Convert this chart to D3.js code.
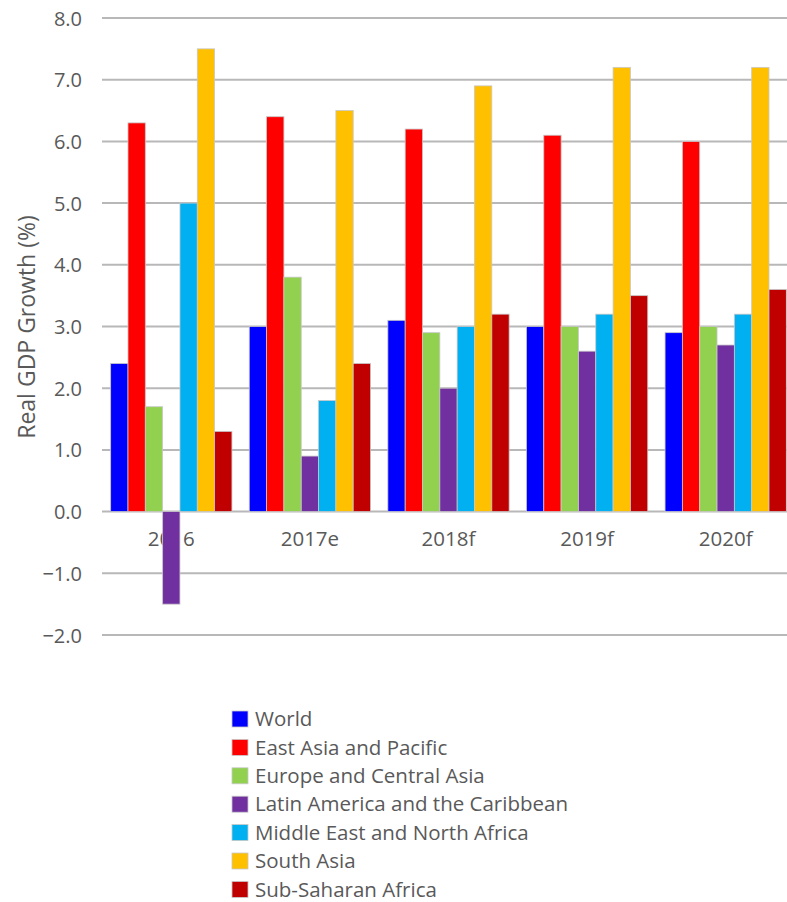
<!DOCTYPE html>
<html>
<head>
<meta charset="utf-8">
<script src="https://cdn.jsdelivr.net/npm/d3@7"></script>
<style>
  body { margin: 0; background: #fff; }
  text { font-family: 'Open Sans', sans-serif; fill: #595959; }
</style>
</head>
<body>
<div id="chart"></div>
<script>
const years = ['2016', '2017e', '2018f', '2019f', '2020f'];
const regions = ['World', 'East Asia and Pacific', 'Europe and Central Asia',
    'Latin America and the Caribbean', 'Middle East and North Africa',
    'South Asia', 'Sub-Saharan Africa'];
const colors = ['#0000ff', '#ff0000', '#92d050', '#7030a0', '#00b0f0', '#ffc000', '#c00000'];

// one array per region, values by year
const world = [2.4, 3.0, 3.1, 3.0, 2.9];
const eastAsia = [6.3, 6.4, 6.2, 6.1, 6.0];
const europe = [1.7, 3.8, 2.9, 3.0, 3.0];
const latinAmerica = [-1.5, 0.9, 2.0, 2.6, 2.7];
const middleEast = [5.0, 1.8, 3.0, 3.2, 3.2];
const southAsia = [7.5, 6.5, 6.9, 7.2, 7.2];
const subSaharan = [1.3, 2.4, 3.2, 3.5, 3.6];

const yTicks = [-2, -1, 0, 1, 2, 3, 4, 5, 6, 7, 8];

const series = [world, eastAsia, europe, latinAmerica, middleEast, southAsia, subSaharan];

const data = [];
years.forEach((yr, i) => {
    regions.forEach((r, j) => {
        data.push({year: yr, region: r, value: series[j][i], color: colors[j]});
    });
});

const width = 787, height = 902;

const svg = d3.select('#chart').append('svg')
    .attr('width', width)
    .attr('height', height);

const xScale = d3.scaleBand()
    .domain(years)
    .range([102, 795])
    .paddingInner(0.125)
    .paddingOuter(0.0625);

const xInner = d3.scaleBand()
    .domain(regions)
    .range([0, xScale.bandwidth()]);

const yScale = d3.scaleLinear()
    .domain([-2, 8])
    .range([635, 18]);

// gridlines
svg.append('g')
    .selectAll('line')
    .data(yTicks)
    .enter()
    .append('line')
    .attr('x1', 102)
    .attr('x2', width)
    .attr('y1', d => yScale(d))
    .attr('y2', d => yScale(d))
    .attr('stroke', '#b8b8b8')
    .attr('stroke-width', 2);

// y axis labels
const yAxis = d3.axisLeft(yScale)
    .tickValues(yTicks)
    .tickFormat(d3.format('.1f'))
    .tickSize(0)
    .tickPadding(0);

const yAxisGroup = svg.append('g')
    .attr('class', 'axis y-axis')
    .attr('transform', 'translate(82, 0)')
    .call(yAxis);
yAxisGroup.select('.domain').remove();
yAxisGroup.selectAll('text')
    .style('font-size', '20px')
    .attr('dy', '0.35em')
    .attr('fill', '#595959');

// x axis labels (under the bars)
const xAxis = d3.axisBottom(xScale)
    .tickSize(0)
    .tickPadding(0);

const xAxisGroup = svg.append('g')
    .attr('class', 'axis x-axis')
    .attr('transform', `translate(0, ${yScale(0) + 20})`)
    .call(xAxis);
xAxisGroup.select('.domain').remove();
xAxisGroup.selectAll('text')
    .style('font-size', '20.5px')
    .attr('fill', '#595959');

// bars
svg.append('g')
    .selectAll('rect')
    .data(data)
    .enter()
    .append('rect')
    .attr('class', 'bar')
    .attr('x', d => xScale(d.year) + xInner(d.region))
    .attr('width', xInner.bandwidth())
    .attr('y', d => yScale(Math.max(0, d.value)))
    .attr('height', d => Math.abs(yScale(d.value) - yScale(0)))
    .attr('fill', d => d.color)
    .attr('stroke', '#c8c8c8')
    .attr('stroke-width', 0.8);

// y axis title
svg.append('text')
    .attr('transform', 'translate(35, 327) rotate(-90)')
    .attr('text-anchor', 'middle')
    .style('font-size', '23px')
    .text('Real GDP Growth (%)');

// legend
const legend = svg.append('g')
    .attr('transform', 'translate(232, 711)');

const item = legend.selectAll('g')
    .data(regions)
    .enter()
    .append('g')
    .attr('transform', (d, i) => `translate(0, ${i * 28.4})`);

item.append('rect')
    .attr('width', 16)
    .attr('height', 16)
    .attr('fill', (d, i) => colors[i])
    .attr('stroke', '#c8c8c8')
    .attr('stroke-width', 0.8);

item.append('text')
    .attr('x', 23)
    .attr('y', 8)
    .attr('dy', '0.35em')
    .style('font-size', '20.5px')
    .text(d => d);
</script>
</body>
</html>
